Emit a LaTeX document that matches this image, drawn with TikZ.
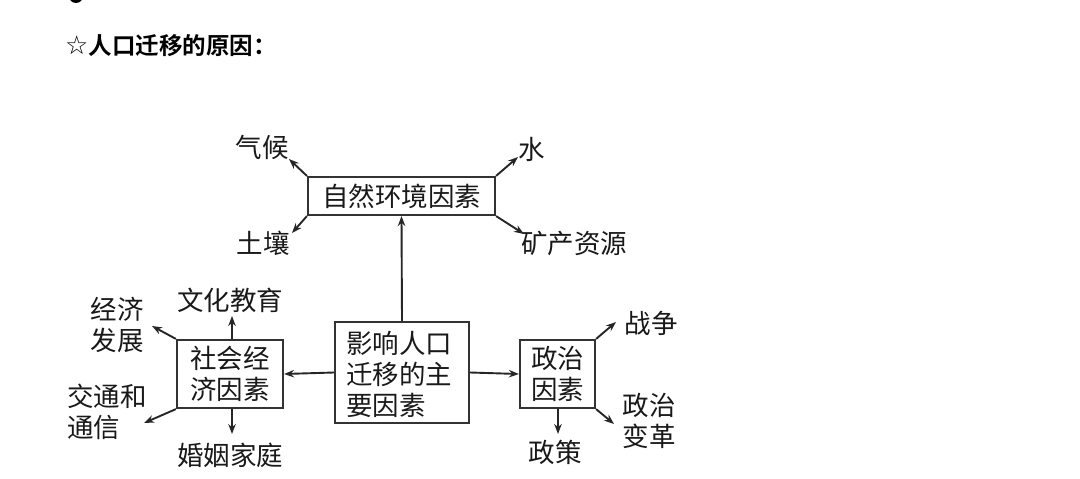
\documentclass[tikz,border=0pt]{standalone}
\usepackage{fontspec}
\usetikzlibrary{arrows.meta}
\newfontfamily\cjk{Noto Sans CJK SC}
\newfontfamily\cjkbold{Noto Sans CJK SC Bold}
\newfontfamily\symf{DejaVu Sans}
\begin{document}
\begin{tikzpicture}[x=1pt,y=-1pt,
  box/.style={draw=black!80, line width=2.2pt, inner sep=0pt},
  lbl/.style={font=\cjk\fontsize{26.5}{31}\selectfont, inner sep=0pt, align=left, text=black!90},
  arr/.style={-{Stealth[length=10pt,width=7.5pt]}, line width=1.9pt, draw=black!85}]
\useasboundingbox (0,0) rectangle (1080,479);
\fill[black] (76,-4) circle (7);
% title
\node[anchor=west, inner sep=0pt, font=\fontsize{23.5}{26}\selectfont] (title) at (65,46)
  {{\symf\fontsize{26}{26}\selectfont ☆}{\cjkbold 人口迁移的原因：}};
% boxes
\node[box, minimum width=187pt, minimum height=38pt] (nat) at (401.5,196) {};
\node[lbl] at (nat.center) {自然环境因素};
\node[box, minimum width=134pt, minimum height=101pt] (main) at (402,372.5) {};
\node[lbl, anchor=west] at (346,374) {影响人口\\迁移的主\\要因素};
\node[box, minimum width=106pt, minimum height=68pt] (soc) at (230,374) {};
\node[lbl] at (soc.center) {社会经\\济因素};
\node[box, minimum width=75pt, minimum height=68pt] (pol) at (557.5,374) {};
\node[lbl] at (pol.center) {政治\\因素};
% labels
\node[lbl] (qh) at (262,147) {气候};
\node[lbl] (sh) at (532,149) {水};
\node[lbl] (tr) at (263,243) {土壤};
\node[lbl] (kc) at (574,243) {矿产资源};
\node[lbl] (wh) at (230,300) {文化教育};
\node[lbl] (jj) at (117,325) {经济\\发展};
\node[lbl, anchor=west] (jt) at (67,412) {交通和\\通信};
\node[lbl] (hy) at (230,455) {婚姻家庭};
\node[lbl] (zz) at (651,323) {战争};
\node[lbl] (bg) at (649,421) {政治\\变革};
\node[lbl] (zc) at (555,452) {政策};
% arrow tips
\coordinate (tqh) at (289,159);
\coordinate (tsh) at (518,157);
\coordinate (ttr) at (292,233);
\coordinate (tkc) at (524,234);
\coordinate (twh) at (232,316);
\coordinate (tjj) at (152,326);
\coordinate (tjt) at (144,423);
\coordinate (thy) at (232,434);
\coordinate (tzz) at (616,322);
\coordinate (tbg) at (614,424);
\coordinate (tzc) at (558,434);
% connectors
\draw[arr] (main.north) -- (nat.south);
\draw[arr] (main.west) -- (soc.east);
\draw[arr] (main.east) -- (pol.west);
\draw[arr] (nat.north west) -- (tqh);
\draw[arr] (nat.north east) -- (tsh);
\draw[arr] (nat.south west) -- (ttr);
\draw[arr] (nat.south east) -- (tkc);
\draw[arr] (soc.north -| twh) -- (twh);
\draw[arr] (soc.north west) -- (tjj);
\draw[arr] (soc.south west) -- (tjt);
\draw[arr] (soc.south -| thy) -- (thy);
\draw[arr] (pol.north east) -- (tzz);
\draw[arr] (pol.south east) -- (tbg);
\draw[arr] (pol.south -| tzc) -- (tzc);
\end{tikzpicture}
\end{document}
